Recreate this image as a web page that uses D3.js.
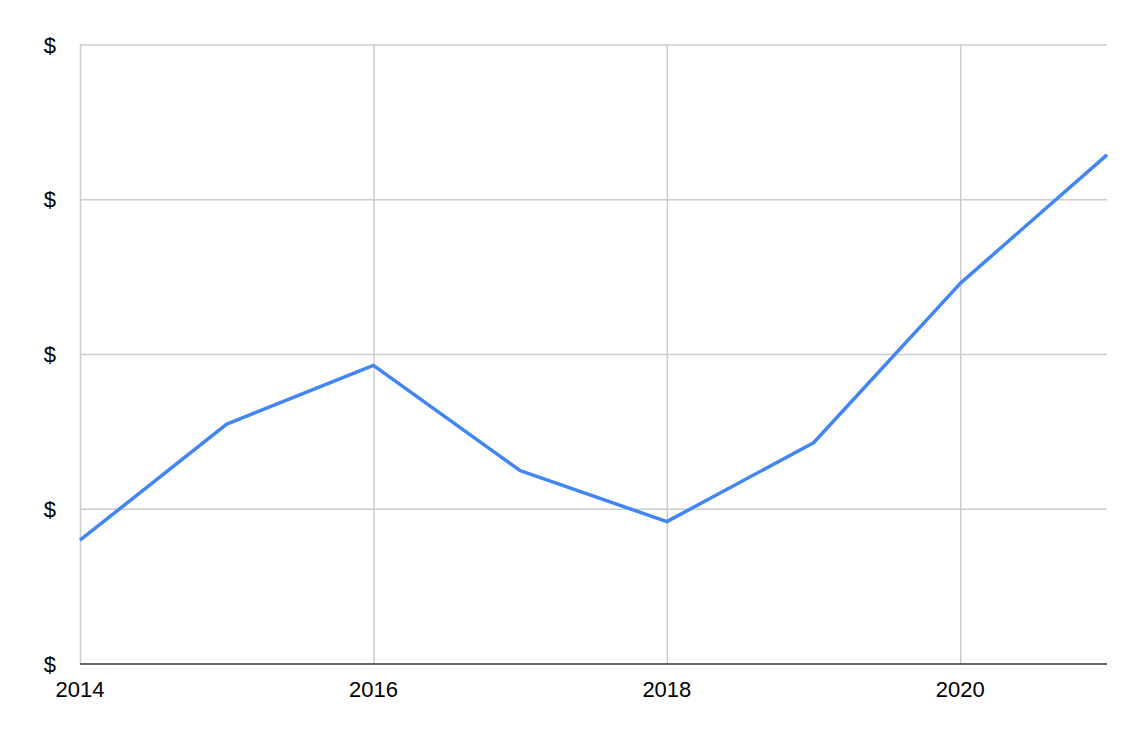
<!DOCTYPE html>
<html><head><meta charset="utf-8">
<script src="https://cdn.jsdelivr.net/npm/d3@7"></script>
<style>body{margin:0;background:#fff;}svg{display:block;}</style>
</head><body>
<svg id="chart" width="1137" height="730"></svg>
<script>
const years = [2014, 2015, 2016, 2017, 2018, 2019, 2020, 2021];
const values = [0.80, 1.55, 1.93, 1.25, 0.92, 1.43, 2.46, 3.29];
const yTicks = [0, 1, 2, 3, 4];
const yTickLabels = ["$", "$", "$", "$", "$"];
const xTicks = [2014, 2016, 2018, 2020];

const svg = d3.select("#chart");
const m = {left: 80, right: 30, top: 45, bottom: 66};
const W = 1137, H = 730;
const x = d3.scaleLinear().domain([2014, 2021]).range([m.left, W - m.right]);
const y = d3.scaleLinear().domain([0, 4]).range([H - m.bottom, m.top]);
const font = "Liberation Sans, Arial, sans-serif";

// horizontal gridlines
svg.append("g").selectAll("line").data(yTicks.slice(1)).join("line")
  .attr("x1", x(2014)).attr("x2", x(2021))
  .attr("y1", d => y(d)).attr("y2", d => y(d))
  .attr("stroke", "#cccccc").attr("stroke-width", 1.5);
// vertical gridlines
svg.append("g").selectAll("line").data(xTicks).join("line")
  .attr("x1", d => x(d) + 0.5).attr("x2", d => x(d) + 0.5)
  .attr("y1", y(4)).attr("y2", y(0))
  .attr("stroke", "#cccccc").attr("stroke-width", 1.5);
// baseline
svg.append("line").attr("x1", x(2014)).attr("x2", x(2021))
  .attr("y1", y(0)).attr("y2", y(0)).attr("stroke", "#333").attr("stroke-width", 1.5);

// y labels
svg.append("g").selectAll("text").data(yTicks).join("text")
  .attr("x", 56).attr("y", d => y(d))
  .attr("text-anchor", "end").attr("font-family", font).attr("font-size", 22)
  .attr("fill", "#000").attr("dominant-baseline", "central")
  .text((d, i) => yTickLabels[i]);
// x labels
svg.append("g").selectAll("text").data(xTicks).join("text")
  .attr("x", d => x(d)).attr("y", 697)
  .attr("text-anchor", "middle").attr("font-family", font).attr("font-size", 22)
  .attr("fill", "#000").text(d => d);

// line
const line = d3.line().x((d, i) => x(years[i])).y(d => y(d));
svg.append("path").datum(values).attr("d", line)
  .attr("fill", "none").attr("stroke", "#4285F4").attr("stroke-width", 3.5)
  .attr("stroke-linejoin", "round");
</script>
</body></html>
